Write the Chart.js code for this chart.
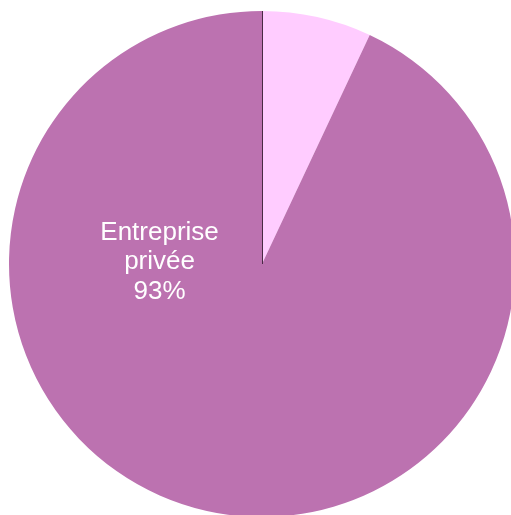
<!DOCTYPE html>
<html>
<head>
<meta charset="utf-8">
<script src="https://cdn.jsdelivr.net/npm/chart.js@4"></script>
<style>
	html, body { margin: 0; padding: 0; background: #ffffff; overflow: hidden; }
	#wrap { position: relative; width: 524px; height: 528px; }
</style>
</head>
<body>
<div id="wrap"><canvas id="chart"></canvas></div>
<script>
const categories = ['Autre', 'Entreprise privée']
const shares = [7, 93]
const sliceColors = ['#FFCCFF', '#BC72B0']
const labelLines = [[], ['Entreprise', 'privée', '93%']]

// thin dark edge on the first slice start + the text label inside the big slice
const pieDecor = {
	id: 'pieDecor',
	afterDatasetsDraw(chart) {
		const ctx = chart.ctx
		const arcs = chart.getDatasetMeta(0).data
		const first = arcs[0]
		ctx.save()
		ctx.strokeStyle = '#4A2A45'
		ctx.lineWidth = 1
		ctx.beginPath()
		ctx.moveTo(first.x + 0.5, first.y)
		ctx.lineTo(first.x + 0.5 + Math.cos(first.startAngle) * first.outerRadius, first.y + Math.sin(first.startAngle) * first.outerRadius)
		ctx.stroke()

		ctx.fillStyle = '#ffffff'
		ctx.font = '26px "Liberation Sans", Arial, sans-serif'
		ctx.textAlign = 'center'
		ctx.textBaseline = 'alphabetic'
		arcs.forEach((arc, i) => {
			const lines = labelLines[i]
			if (!lines.length) return
			const cx = arc.x - arc.outerRadius * 0.405
			const baseY = arc.y - 24.5
			lines.forEach((line, j) => {
				ctx.fillText(line, cx, baseY + j * 29.7)
			})
		})
		ctx.restore()
	},
}

new Chart(document.getElementById('chart'), {
	type: 'pie',
	data: {
		labels: categories,
		datasets: [
			{
				data: shares,
				backgroundColor: sliceColors,
				borderWidth: 0,
			},
		],
	},
	options: {
		responsive: true,
		maintainAspectRatio: false,
		animation: false,
		layout: { padding: 9 },
		plugins: {
			legend: { display: false },
			tooltip: { enabled: false },
		},
	},
	plugins: [pieDecor],
})
</script>
</body>
</html>
